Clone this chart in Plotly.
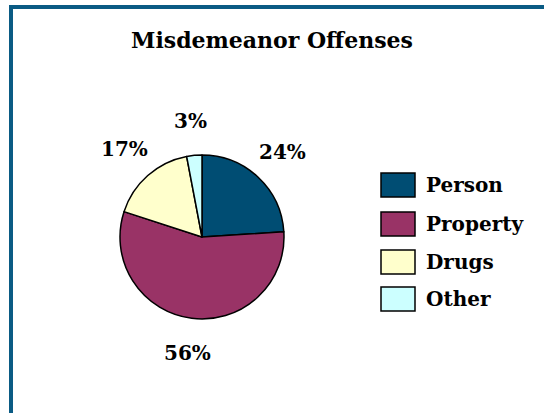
import math
import plotly.graph_objects as go

categories = ["Person", "Property", "Drugs", "Other"]
values = [24, 56, 17, 3]
colors = ["#004D73", "#993366", "#FFFFCC", "#CCFFFF"]
title_text = "Misdemeanor Offenses"

W, H = 544, 413
FONT = "DejaVu Serif"

# pie geometry (pixels)
CX, CY, R = 202, 237, 82
LABEL_R = 117

fig = go.Figure()
fig.add_trace(go.Pie(
    labels=categories,
    values=values,
    marker=dict(colors=colors, line=dict(color="black", width=1.5)),
    sort=False,
    direction="clockwise",
    rotation=0,
    textinfo="none",
    showlegend=False,
    domain=dict(x=[(CX - R) / W, (CX + R) / W], y=[(H - CY - R) / H, (H - CY + R) / H]),
    hoverinfo="label+percent",
))

shapes = [
    dict(type="line", xref="paper", yref="paper", x0=11 / W, x1=11 / W, y0=-0.05, y1=(H - 5) / H,
         line=dict(color="#0A5B84", width=4)),
    dict(type="line", xref="paper", yref="paper", x0=9 / W, x1=1.05, y0=(H - 7) / H, y1=(H - 7) / H,
         line=dict(color="#0A5B84", width=4)),
]
annotations = []

# percent labels outside the slices at mid-angles computed from the data
total = sum(values)
cum = 0
for v in values:
    mid = (cum + v / 2) / total * 2 * math.pi
    cum += v
    px = CX + LABEL_R * math.sin(mid)
    py = CY - LABEL_R * math.cos(mid)
    annotations.append(dict(xref="paper", yref="paper", x=px / W, y=(H - py) / H,
                            text=f"{round(v / total * 100)}%", showarrow=False,
                            xanchor="center", yanchor="middle",
                            font=dict(family=FONT, size=20, color="black", weight="bold")))

# legend
row_y = [185, 224, 262, 299]
for name, col, yc in zip(categories, colors, row_y):
    shapes.append(dict(type="rect", xref="paper", yref="paper",
                       x0=381 / W, x1=415 / W, y0=(H - yc - 12) / H, y1=(H - yc + 12) / H,
                       fillcolor=col, line=dict(color="black", width=1.5)))
    annotations.append(dict(xref="paper", yref="paper", x=424 / W, y=(H - yc) / H,
                            text=name, showarrow=False, xanchor="left", yanchor="middle",
                            font=dict(family=FONT, size=20, color="black", weight="bold")))

fig.update_layout(
    width=W, height=H,
    margin=dict(l=0, r=0, t=0, b=0),
    paper_bgcolor="white",
    plot_bgcolor="white",
    title=dict(text=title_text, x=0.5, xanchor="center", y=(H - 40) / H, yanchor="middle",
               font=dict(family=FONT, size=22, color="black", weight="bold")),
    shapes=shapes,
    annotations=annotations,
)

fig.write_html("out.html", config={"displayModeBar": False},
               post_script="document.body.style.margin='0';")
